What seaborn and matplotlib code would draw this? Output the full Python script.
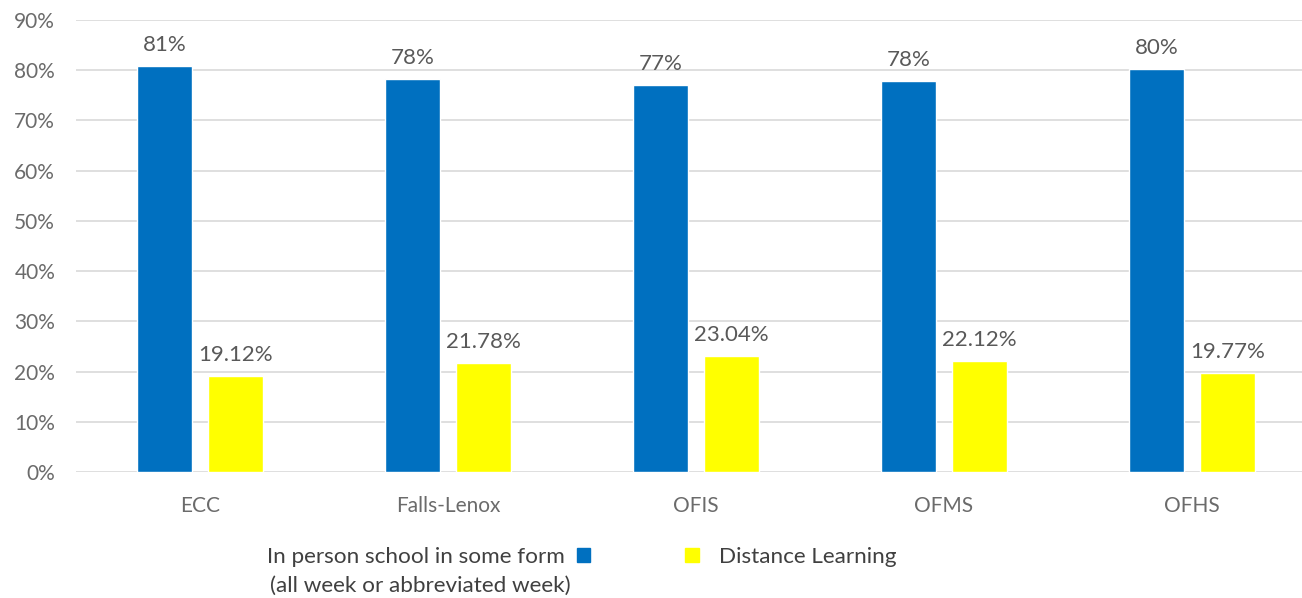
import pandas as pd
import seaborn as sns
import matplotlib.pyplot as plt
from matplotlib.patches import Patch

# values (percent)
schools = ['ECC', 'Falls-Lenox', 'OFIS', 'OFMS', 'OFHS']
in_person = [80.88, 78.22, 76.96, 77.88, 80.23]
distance = [19.12, 21.78, 23.04, 22.12, 19.77]
series = ['In person school in some form', 'Distance Learning']
y_ticks = [0, 10, 20, 30, 40, 50, 60, 70, 80, 90]

df = pd.DataFrame({
    'School': schools * 2,
    'Share': in_person + distance,
    'Group': [series[0]] * len(schools) + [series[1]] * len(schools),
})

sns.set_theme(style='white')
plt.rcParams['font.family'] = ['Lato', 'DejaVu Sans']

blue = '#0070C0'
yellow = '#FFFF00'
grey_txt = '#595959'

fig = plt.figure(figsize=(13.02, 5.98), dpi=100)
ax = fig.add_axes([76 / 1302, 126 / 598, 1240 / 1302, 452 / 598])

sns.barplot(data=df, x='School', y='Share', hue='Group', palette=[blue, yellow],
            width=0.573, gap=0.225, ax=ax, legend=False, saturation=1)

ax.set_ylim(0, 90)
ax.set_xlim(-0.5, 4.5)
ax.set_yticks(y_ticks)
ax.set_yticklabels([f'{t}%' for t in y_ticks])
ax.yaxis.grid(True, color='#D9D9D9', linewidth=1.2)
ax.set_axisbelow(True)
for s in ax.spines.values():
    s.set_visible(False)
ax.tick_params(axis='both', length=0, labelsize=15, labelcolor='#6b6b6b')
ax.tick_params(axis='x', pad=17)
ax.tick_params(axis='y', pad=15)
ax.set_xlabel('')
ax.set_ylabel('')

# data labels
ax.bar_label(ax.containers[0], fmt='%.0f%%', padding=8, fontsize=16, color=grey_txt)
ax.bar_label(ax.containers[1], fmt='%.2f%%', padding=8, fontsize=16, color=grey_txt)

# legend at the bottom: first entry has its marker after the text
fig.legend(handles=[Patch(color=blue, label=series[0])], loc='center right',
           bbox_to_anchor=(590 / 1302, 1 - 557 / 598), frameon=False, markerfirst=False,
           handlelength=0.6, handleheight=0.6, handletextpad=0.5, fontsize=16.2,
           labelcolor='#404040', borderaxespad=0, borderpad=0)
fig.text(270 / 1302, 1 - 586 / 598, '(all week or abbreviated week)', fontsize=16.2,
         color='#404040', va='center', ha='left')
fig.legend(handles=[Patch(color=yellow, label=series[1])], loc='center left',
           bbox_to_anchor=(685 / 1302, 1 - 557 / 598), frameon=False,
           handlelength=0.6, handleheight=0.6, handletextpad=0.9, fontsize=16.2,
           labelcolor='#404040', borderaxespad=0, borderpad=0)

plt.savefig('out.png', dpi=100)
